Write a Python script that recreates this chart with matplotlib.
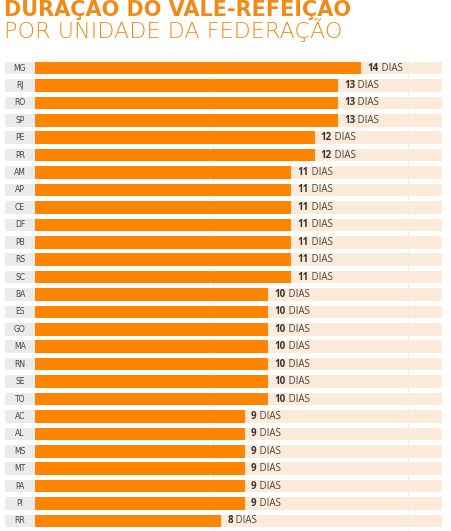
import matplotlib
matplotlib.use('Agg')
import matplotlib.pyplot as plt

states = ['MG', 'RJ', 'RO', 'SP', 'PE', 'PR', 'AM', 'AP', 'CE', 'DF', 'PB',
          'RS', 'SC', 'BA', 'ES', 'GO', 'MA', 'RN', 'SE', 'TO', 'AC', 'AL',
          'MS', 'MT', 'PA', 'PI', 'RR']
days = [14, 13, 13, 13, 12, 12, 11, 11, 11, 11, 11, 11, 11, 10, 10, 10, 10,
        10, 10, 10, 9, 9, 9, 9, 9, 9, 8]
grid_ticks = [7.65, 16]

ORANGE = '#ff8400'
TITLE = '#f28a17'
BAND = '#fdebda'
BOX = '#ebebeb'

W, H = 451, 531
fig = plt.figure(figsize=(W / 100, H / 100), dpi=100)

# axes spans from left edge of the state boxes to the end of the light band
x0, x1 = 5, 442
y_top, y_bot = 59.3, 529.7
ax = fig.add_axes([x0 / W, 1 - y_bot / H, (x1 - x0) / W, (y_bot - y_top) / H])

px_per_day = 23.3
xmin = -(35 - x0) / px_per_day
xmax = (x1 - 35) / px_per_day
ax.set_xlim(xmin, xmax)
ax.set_ylim(len(states) - 0.5, -0.5)

pos = list(range(len(states)))
h = 0.72
ax.barh(pos, [xmax] * len(states), height=h, color=BAND, zorder=1)
ax.barh(pos, [-xmin - 0.02] * len(states), left=xmin, height=h, color=BOX, zorder=2)
ax.barh(pos, days, height=h, color=ORANGE, zorder=3)

ax.set_xticks(grid_ticks)
ax.grid(axis='x', color='#eeeeee', linewidth=0.7, zorder=0)
ax.set_yticks([])
ax.tick_params(axis='x', length=0, labelbottom=False)
for s in ax.spines.values():
    s.set_visible(False)

for i, (st, d) in enumerate(zip(states, days)):
    ax.text(xmin / 2, i, st, ha='center', va='center', fontsize=5.5,
            color='#444444', family='DejaVu Sans Condensed', zorder=4)
    t = ax.annotate(str(d), xy=(d, i), xytext=(4.5, 0), textcoords='offset points',
                    ha='left', va='center', fontsize=7, fontweight='bold',
                    color='#333333', family='Open Sans', zorder=4)
    ax.annotate(' DIAS', xy=(1, 0.5), xycoords=t, ha='left', va='center',
                fontsize=7, color='#444444', family='Open Sans', zorder=4)

fig.text(4 / W, 1 - 16.5 / H, 'DURAÇAO DO VALE-REFEIÇAO', ha='left', va='baseline',
         fontsize=15, fontweight='bold', color=TITLE, family='DejaVu Sans')
fig.text(4 / W, 1 - 38.5 / H, 'POR UNIDADE DA FEDERAÇÃO', ha='left', va='baseline',
         fontsize=16, fontweight=200, color=TITLE, family='DejaVu Sans')

fig.savefig('out.png', dpi=100)
